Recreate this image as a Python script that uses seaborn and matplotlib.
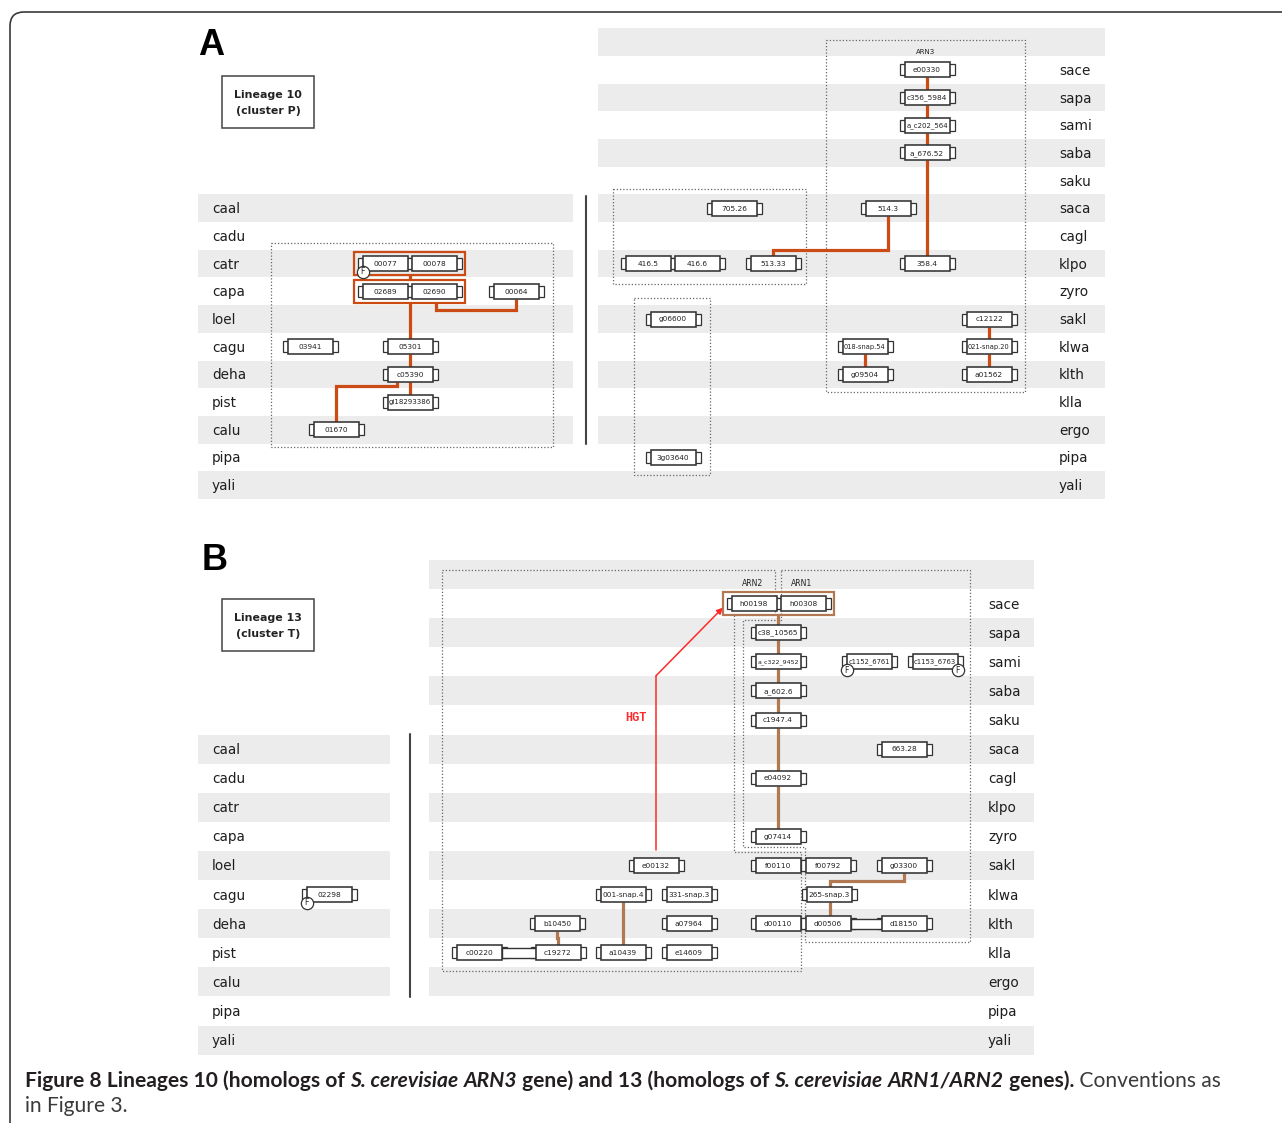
import matplotlib
matplotlib.use("Agg")
import matplotlib.pyplot as plt
import numpy as np
import pandas as pd
import seaborn as sns
from matplotlib.patches import Rectangle, FancyBboxPatch, Polygon
from matplotlib import font_manager

# ---------------------------------------------------------------- data
right_rows = ["", "sace", "sapa", "sami", "saba", "saku", "saca", "cagl", "klpo",
              "zyro", "sakl", "klwa", "klth", "klla", "ergo", "pipa", "yali"]
left_rows = ["caal", "cadu", "catr", "capa", "loel", "cagu", "deha", "pist",
             "calu", "pipa", "yali"]

# Panel A : lineage 10 (ARN3)
a_genes = ["00077", "00078", "02689", "02690", "00064", "03941", "05301", "c05390",
           "gi18293386", "01670",
           "e00330", "c356_5984", "a_c202_564", "a_676.52", "358.4", "705.26", "514.3",
           "416.5", "416.6", "513.33", "g06600", "3g03640", "018-snap.54", "g09504",
           "c12122", "021-snap.20", "a01562"]
a_species = ["catr", "catr", "capa", "capa", "capa", "cagu", "cagu", "deha",
             "pist", "calu",
             "sace", "sapa", "sami", "saba", "klpo", "saca", "saca",
             "klpo", "klpo", "klpo", "sakl", "pipa", "klwa", "klth",
             "sakl", "klwa", "klth"]
a_x = [385, 434, 385, 434, 516, 310, 410, 410, 410, 336,
       927, 927, 927, 927, 927, 734, 888, 648, 697, 773, 673, 673, 865, 865,
       989, 989, 989]
a_groups = [["00077", "00078"], ["02689", "02690"]]
a_links = [("00077", "02689", 410, 410, 0.5),
           ("02689", "05301", 410, 410, 0.5),
           ("02690", "00064", 436, None, None),
           ("05301", "c05390", None, None, 0.5),
           ("c05390", "gi18293386", None, None, 0.5),
           ("c05390", "01670", 397, None, 0.1),
           ("e00330", "c356_5984", None, None, 0.5),
           ("c356_5984", "a_c202_564", None, None, 0.5),
           ("a_c202_564", "a_676.52", None, None, 0.5),
           ("a_676.52", "358.4", None, None, 0.5),
           ("514.3", "513.33", None, None, 0.85),
           ("018-snap.54", "g09504", None, None, 0.5),
           ("c12122", "021-snap.20", None, None, 0.5),
           ("021-snap.20", "a01562", None, None, 0.5)]
a_fusions = [("00077", "left")]
a_doubles = []

# Panel B : lineage 13 (ARN1/ARN2)
b_genes = ["h00198", "h00308", "c38_10565", "a_c322_9452", "a_602.6", "c1947.4",
           "e04092", "g07414", "c1152_6761", "c1153_6763", "663.28", "e00132",
           "f00110", "f00792", "g03300", "001-snap.4", "331-snap.3", "265-snap.3",
           "b10450", "a07964", "d00110", "d00506", "d18150", "c00220", "c19272",
           "a10439", "e14609", "02298"]
b_species = ["sace", "sace", "sapa", "sami", "saba", "saku",
             "cagl", "zyro", "sami", "sami", "saca", "sakl",
             "sakl", "sakl", "sakl", "klwa", "klwa", "klwa",
             "klth", "klth", "klth", "klth", "klth", "klla", "klla",
             "klla", "klla", "cagu"]
b_x = [754, 803, 778, 778, 778, 778, 778, 778, 869, 935, 904, 656,
       778, 828, 904, 623, 689, 829, 557, 689, 778, 828, 904, 479, 558,
       623, 689, 329]
b_groups = [["h00198", "h00308"]]
b_links = [("h00198", "c38_10565", 778, 778, 0.5),
           ("c38_10565", "a_c322_9452", None, None, 0.5),
           ("a_c322_9452", "a_602.6", None, None, 0.5),
           ("a_602.6", "c1947.4", None, None, 0.5),
           ("c1947.4", "e04092", None, None, 0.5),
           ("e04092", "g07414", None, None, 0.5),
           ("b10450", "c19272", None, None, 0.5),
           ("001-snap.4", "a10439", None, None, 0.5),
           ("g03300", "265-snap.3", None, 830, 0.57),
           ("265-snap.3", "d00506", 830, 830, 0.5)]
b_fusions = [("c1152_6761", "left"), ("c1153_6763", "right"), ("02298", "left")]
b_doubles = [("c00220", "c19272"), ("d00506", "d18150")]

caption_line1 = [("Figure 8 Lineages 10 (homologs of ", "bold", "normal"),
                 ("S. cerevisiae", "bold", "italic"), (" ", "bold", "normal"),
                 ("ARN3", "bold", "italic"),
                 (" gene) and 13 (homologs of ", "bold", "normal"),
                 ("S. cerevisiae", "bold", "italic"), (" ", "bold", "normal"),
                 ("ARN1/ARN2", "bold", "italic"),
                 (" genes).", "bold", "normal"),
                 (" Conventions as", "normal", "normal")]
caption_line2 = [("in Figure 3.", "normal", "normal")]

# ---------------------------------------------------------------- style / layout
STRIPE = "#ececec"
EDGE = "#333333"
BOX_W, BOX_H, BR_W, BR_H = 45, 15, 5, 11
GH = 11.5
GENE_FS = 5.3
PANEL_A = dict(y0=42.3, dy=27.67, right_x=(598, 1105), left_x=(198, 573),
               rlab=1059, llab=212, color="#cc4a14",
               sep=(586, 196, 444), letter=("A", 211, 55),
               lineage=("Lineage 10", "(cluster P)", 222, 76, 92, 52))
PANEL_B = dict(y0=574.5, dy=29.1, right_x=(429, 1034), left_x=(198, 390),
               rlab=988, llab=212, color="#b27852",
               sep=(410, 734, 997), letter=("B", 214.5, 570),
               lineage=("Lineage 13", "(cluster T)", 222, 599, 92, 52))

W, H = 1282, 1123
sns.set_theme(style="white")
plt.rcParams["font.family"] = ["DejaVu Sans"]
fig = plt.figure(figsize=(W / 100, H / 100), dpi=100)
ax = fig.add_axes([0, 0, 1, 1])
ax.set_xlim(0, W)
ax.set_ylim(H, 0)
ax.axis("off")
R = fig.canvas.get_renderer()


def row_of(sp):
    return right_rows.index(sp) if sp in right_rows else 6 + left_rows.index(sp)


def draw_gene(x, y, label):
    for bx in (x - BOX_W / 2 - BR_W, x + BOX_W / 2 - 0.5):
        ax.add_patch(Rectangle((bx, y - BR_H / 2), BR_W + 0.5, BR_H, fc="white",
                               ec=EDGE, lw=0.9, zorder=3))
    ax.add_patch(Rectangle((x - BOX_W / 2, y - BOX_H / 2), BOX_W, BOX_H, fc="white",
                           ec=EDGE, lw=1.15, zorder=4))
    t = ax.text(x, y + 0.3, label, fontsize=GENE_FS, ha="center", va="center",
                color="#222", zorder=5)
    w = t.get_window_extent(R).width
    if w > 42:
        t.set_fontsize(GENE_FS * 42 / w)


fus_x, fus_y = [], []


def draw_panel(P, genes, species, xs, groups, links, fusions, doubles):
    y0, dy = P["y0"], P["dy"]
    ry = lambda i: y0 + dy * i
    for i in range(17):
        if i % 2:
            continue
        yt = ry(i) - dy / 2
        if i == 16:
            ax.add_patch(Rectangle((P["left_x"][0], yt), P["right_x"][1] - P["left_x"][0], dy,
                                   fc=STRIPE, ec="none", zorder=0))
        else:
            ax.add_patch(Rectangle((P["right_x"][0], yt), P["right_x"][1] - P["right_x"][0], dy,
                                   fc=STRIPE, ec="none", zorder=0))
            if i >= 6:
                ax.add_patch(Rectangle((P["left_x"][0], yt), P["left_x"][1] - P["left_x"][0], dy,
                                       fc=STRIPE, ec="none", zorder=0))
    for i, sp in enumerate(right_rows):
        if sp:
            ax.text(P["rlab"], ry(i) + 1, sp, fontsize=9.8, ha="left", va="center", color="#1e1e1e")
    for j, sp in enumerate(left_rows):
        ax.text(P["llab"], ry(6 + j) + 1, sp, fontsize=9.8, ha="left", va="center", color="#1e1e1e")

    sx, sy0, sy1 = P["sep"]
    ax.plot([sx, sx], [sy0, sy1], color="#444", lw=1.5, zorder=1)
    letter, lx, ly = P["letter"]
    ax.text(lx, ly, letter, fontsize=26, fontweight="bold", family="Liberation Sans",
            ha="center", va="baseline", color="black")
    l1, l2, bx, by, bw, bh = P["lineage"]
    ax.add_patch(Rectangle((bx, by), bw, bh, fill=False, ec="#444", lw=1.1, zorder=2))
    ax.text(bx + bw / 2, by + 19, l1, fontsize=7.9, fontweight="bold", ha="center",
            va="center", color="#222")
    ax.text(bx + bw / 2, by + 35, l2, fontsize=7.9, fontweight="bold", ha="center",
            va="center", color="#222")

    pos = {g: (x, ry(row_of(s))) for g, s, x in zip(genes, species, xs)}
    grp_of = {g: k for k, grp in enumerate(groups) for g in grp}

    def bottom(g):
        return pos[g][1] + (GH if g in grp_of else BOX_H / 2)

    def top(g):
        return pos[g][1] - (GH if g in grp_of else BOX_H / 2)

    for p, c, xs_, xe_, frac in links:
        xp, yp = pos[p]
        xc, yc = pos[c]
        x0 = xp if xs_ is None else xs_
        x1 = xc if xe_ is None else xe_
        ya = bottom(p)
        if abs(yc - yp) < 1:
            yb = bottom(c)
            ym = ya + 7
        else:
            yb = top(c)
            ym = ya + frac * (yb - ya)
        ax.plot([x0, x0, x1, x1], [ya, ym, ym, yb], color=P["color"], lw=2.3,
                solid_capstyle="butt", solid_joinstyle="miter", zorder=2)

    boxes = []
    for grp in groups:
        gx = [pos[g][0] for g in grp]
        y = pos[grp[0]][1]
        xl = min(gx) - BOX_W / 2 - BR_W - 3.5
        xr = max(gx) + BOX_W / 2 + BR_W + 3.5
        ax.add_patch(Rectangle((xl, y - GH), xr - xl, 2 * GH, fill=False,
                               ec=P["color"], lw=1.6, zorder=2.5))
        boxes.append((xl, xr, y))

    for g in genes:
        draw_gene(pos[g][0], pos[g][1], g)

    for g1, g2 in doubles:
        x1 = pos[g1][0] + BOX_W / 2
        x2 = pos[g2][0] - BOX_W / 2
        y = pos[g1][1]
        ax.add_patch(Rectangle((x1, y - 5), x2 - x1, 10, fc="white", ec=EDGE,
                               lw=1.0, zorder=3.5))

    for g, side in fusions:
        x, y = pos[g]
        fx = x - BOX_W / 2 if side == "left" else x + BOX_W / 2
        fus_x.append(fx)
        fus_y.append(y + BOX_H / 2 + 0.5)
    return pos, boxes


posA, boxA = draw_panel(PANEL_A, a_genes, a_species, a_x, a_groups, a_links,
                        a_fusions, a_doubles)
posB, boxB = draw_panel(PANEL_B, b_genes, b_species, b_x, b_groups, b_links,
                        b_fusions, b_doubles)

# fusion markers (seaborn)
fdf = pd.DataFrame({"x": fus_x, "y": fus_y})
sns.scatterplot(data=fdf, x="x", y="y", ax=ax, s=78, color="white", edgecolor="#333",
                linewidth=0.9, zorder=6, legend=False)
for x, y in zip(fus_x, fus_y):
    ax.text(x, y + 0.3, "F", fontsize=5.6, ha="center", va="center", color="#222", zorder=7)

# dotted cluster outlines
DOT = dict(fill=False, ec="#666", lw=0.9, ls=(0, (1, 1.6)), zorder=1)
for (x0, y0, x1, y1) in [(271, 243, 553, 447), (826, 40, 1025, 392),
                         (613, 189, 806, 284), (634, 298, 710, 475)]:
    ax.add_patch(Rectangle((x0, y0), x1 - x0, y1 - y0, **DOT))
arn2_poly = [(442, 570), (775, 570), (775, 615), (734, 615), (734, 852),
             (801, 852), (801, 971), (442, 971)]
arn1_poly = [(781, 570), (970, 570), (970, 942), (805, 942), (805, 847),
             (743, 847), (743, 620), (781, 620)]
for poly in (arn2_poly, arn1_poly):
    ax.add_patch(Polygon(poly, closed=True, **DOT))

ax.text(926, 52, "ARN3", fontsize=5.0, ha="center", va="center", color="#222")
ax.text(753, 583, "ARN2", fontsize=5.6, ha="center", va="center", color="#222")
ax.text(802, 583, "ARN1", fontsize=5.6, ha="center", va="center", color="#222")

# HGT arrow
hx, hy = posB["e00132"]
sami_y = PANEL_B["y0"] + PANEL_B["dy"] * right_rows.index("sami")
bxl, bxr, by = boxB[0]
RED = "#ff2a2a"
ax.plot([hx, hx], [hy - BOX_H / 2 - 8, sami_y + 14], color=RED, lw=1.1, zorder=2)
ax.annotate("", xy=(bxl, by + 4), xytext=(hx, sami_y + 14),
            arrowprops=dict(arrowstyle="-|>", color=RED, lw=1.1, mutation_scale=9,
                            shrinkA=0, shrinkB=0), zorder=2)
ax.text(636, 718, "HGT", fontsize=8.6, fontweight="bold", family="Liberation Mono",
        color=RED, ha="center", va="center")

# outer frame
ax.add_patch(FancyBboxPatch((10, 12), 1400, 1300, boxstyle="round,pad=0,rounding_size=14",
                            fill=False, ec="#3a3a3a", lw=1.2, zorder=8))

# caption
avail = {f.name for f in font_manager.fontManager.ttflist}
cap_font = next((f for f in ["Liberation Sans Narrow", "Lato", "Open Sans"] if f in avail),
                "DejaVu Sans")


def measure(txt, fs, w, st):
    kw = dict(fontsize=fs, fontweight=w, fontstyle=st, family=cap_font)
    t1 = ax.text(0, 0, "|" + txt + "|", **kw)
    t2 = ax.text(0, 0, "||", **kw)
    d = t1.get_window_extent(R).width - t2.get_window_extent(R).width
    t1.remove()
    t2.remove()
    return d


base = 12.0
tot = sum(measure(t, base, w, s) for t, w, s in caption_line1)
cap_fs = base * (1213 - 25) / tot


def place(pieces, x, y):
    for t, w, s in pieces:
        col = "#231f20" if w == "bold" else "#3a3a3a"
        ax.text(x, y, t, fontsize=cap_fs, fontweight=w, fontstyle=s, family=cap_font,
                ha="left", va="baseline", color=col)
        x += measure(t, cap_fs, w, s)


place(caption_line1, 25, 1087)
place(caption_line2, 25, 1112)

ax.set_xlim(0, W)
ax.set_ylim(H, 0)
ax.set_xlabel("")
ax.set_ylabel("")
fig.savefig("out.png", dpi=100, facecolor="white")
